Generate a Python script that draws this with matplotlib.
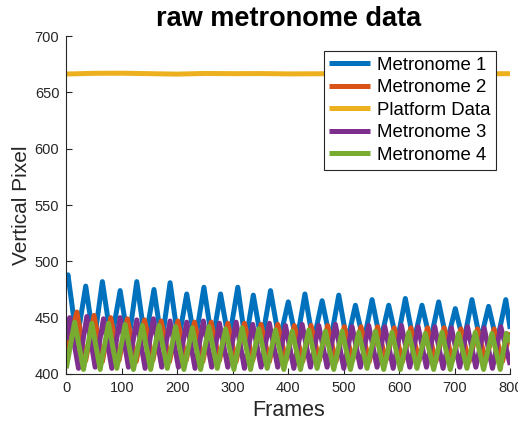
import matplotlib

matplotlib.use("Agg")
import matplotlib.pyplot as plt

# MATLAB default line colours
C_BLUE = (0.0, 0.447, 0.741)
C_ORANGE = (0.85, 0.325, 0.098)
C_YELLOW = (0.929, 0.694, 0.125)
C_PURPLE = (0.494, 0.184, 0.556)
C_GREEN = (0.466, 0.674, 0.188)

# Values: start/end points plus peaks and troughs of each wave
m1_ends = [(0, 481), (800, 440)]
m1_peak_f = [3, 35, 65, 97, 127, 158, 187, 217, 248, 278, 309, 337, 368, 400,
             430, 461, 491, 521, 551, 581, 611, 641, 671, 701, 731, 761, 792]
m1_peak_v = [488, 478, 482, 474, 482, 475, 481, 471, 477, 471, 477, 470, 474, 464,
             471, 465, 470, 461, 466, 461, 467, 461, 464, 458, 466, 460, 466]
m1_trough_f = [19, 50, 81, 112, 142, 172, 202, 232, 263, 293, 323, 352, 384,
               415, 445, 476, 506, 536, 566, 596, 626, 656, 686, 716, 746, 776]
m1_trough_v = [429, 428, 429, 428, 429, 428, 429, 428, 428, 429, 428, 428, 429,
               428, 428, 429, 428, 428, 429, 428, 428, 429, 428, 428, 429, 428]

m2_ends = [(0, 418), (800, 437)]
m2_peak_f = [19, 50, 80, 110, 141, 171, 201, 231, 261, 291, 321, 351, 381,
             411, 441, 471, 501, 531, 561, 591, 621, 651, 681, 711, 741, 771]
m2_peak_v = [455, 452, 450, 449, 448, 447, 447, 446, 446, 445, 445, 444, 444,
             443, 443, 443, 442, 442, 442, 441, 441, 441, 441, 440, 440, 440]
m2_trough_f = [35, 65, 95, 126, 156, 186, 216, 246, 276, 306, 336, 366, 396,
               426, 456, 486, 516, 546, 576, 606, 636, 666, 696, 726, 756, 786]
m2_trough_v = [412, 411, 412, 411, 412, 411, 412, 411, 412, 411, 412, 411, 412,
               411, 412, 411, 412, 411, 412, 411, 412, 411, 412, 411, 412, 411]

platform_f = [0, 50, 100, 150, 200, 250, 300, 350, 400, 450, 500, 550, 600,
              650, 700, 750, 800]
platform_v = [666.3, 666.9, 667.0, 666.6, 666.2, 666.8, 666.6, 666.7, 666.4,
              666.5, 666.6, 666.5, 666.6, 666.5, 666.6, 666.5, 666.6]

m3_ends = [(0, 430), (800, 408)]
m3_peak_f = [6, 37, 67, 97, 127, 157, 187, 217, 247, 276, 306, 336, 366, 395,
             425, 455, 485, 515, 545, 574, 604, 634, 664, 694, 723, 753, 783]
m3_peak_v = [450, 451, 449, 450, 448, 449, 447, 446, 447, 445, 446, 444, 445, 443,
             444, 443, 444, 442, 443, 442, 443, 442, 442, 441, 442, 441, 442]
m3_trough_f = [22, 52, 82, 112, 142, 172, 202, 232, 262, 291, 321, 351, 381,
               410, 440, 470, 500, 530, 560, 589, 619, 649, 679, 709, 738, 768]
m3_trough_v = [405, 406, 405, 406, 405, 406, 406, 405, 406, 406, 405, 406, 406,
               405, 406, 406, 405, 406, 406, 405, 406, 406, 405, 406, 406, 405]

m4_ends = [(0, 405), (800, 428)]
m4_peak_f = [15, 46, 76, 106, 137, 167, 197, 227, 257, 287, 317, 347, 377, 407,
             437, 467, 497, 527, 557, 587, 617, 647, 677, 707, 737, 767, 793]
m4_peak_v = [446, 445, 445, 444, 443, 443, 442, 441, 442, 440, 441, 440, 439, 438,
             439, 438, 438, 437, 438, 437, 437, 436, 437, 436, 437, 436, 436]
m4_trough_f = [31, 61, 91, 121, 152, 182, 212, 242, 272, 302, 332, 362, 392,
               422, 452, 482, 512, 542, 572, 602, 632, 662, 692, 722, 752, 782]
m4_trough_v = [404, 404, 405, 404, 404, 405, 404, 404, 405, 404, 404, 405, 404,
               404, 405, 404, 404, 405, 404, 404, 405, 404, 404, 405, 404, 404]


def merge(ends, pf, pv, tf, tv):
    pts = list(ends) + list(zip(pf, pv)) + list(zip(tf, tv))
    pts.sort()
    return [p[0] for p in pts], [p[1] for p in pts]


plt.rcParams["font.family"] = ["Liberation Sans", "DejaVu Sans"]
fig = plt.figure(figsize=(5.18, 4.24), dpi=100)
ax = fig.add_axes([0.128, 0.118, 0.857, 0.797])

kw = dict(linewidth=3.6, solid_joinstyle="round", solid_capstyle="butt")
ax.plot(*merge(m1_ends, m1_peak_f, m1_peak_v, m1_trough_f, m1_trough_v),
        color=C_BLUE, label="Metronome 1", **kw)
ax.plot(*merge(m2_ends, m2_peak_f, m2_peak_v, m2_trough_f, m2_trough_v),
        color=C_ORANGE, label="Metronome 2", **kw)
ax.plot(platform_f, platform_v, color=C_YELLOW, label="Platform Data", **kw)
ax.plot(*merge(m3_ends, m3_peak_f, m3_peak_v, m3_trough_f, m3_trough_v),
        color=C_PURPLE, label="Metronome 3", **kw)
ax.plot(*merge(m4_ends, m4_peak_f, m4_peak_v, m4_trough_f, m4_trough_v),
        color=C_GREEN, label="Metronome 4", **kw)

ax.set_xlim(0, 800)
ax.set_ylim(400, 700)
ax.set_xticks(range(0, 801, 100))
ax.set_yticks(range(400, 701, 50))
for s in ("top", "right"):
    ax.spines[s].set_visible(False)
for s in ("left", "bottom"):
    ax.spines[s].set_color("#262626")
    ax.spines[s].set_linewidth(0.8)
ax.tick_params(direction="in", length=4, width=0.8, colors="#262626",
               labelsize=10.5, labelcolor="#262626", pad=5)

ax.set_xlabel("Frames", fontsize=15.5, color="#262626", labelpad=4)
ax.set_ylabel("Vertical Pixel", fontsize=15, color="#262626", labelpad=3)
ax.set_title("raw metronome data", fontsize=19.5, fontweight="bold", pad=7)

leg = ax.legend(loc="upper right", bbox_to_anchor=(0.968, 0.956), borderaxespad=0,
                fancybox=False, framealpha=1, edgecolor="#262626",
                prop={"size": 13.4}, handlelength=2.2, handletextpad=0.35,
                labelspacing=0.3, borderpad=0.3)
leg.get_frame().set_linewidth(0.8)

fig.savefig("out.png", dpi=100)
